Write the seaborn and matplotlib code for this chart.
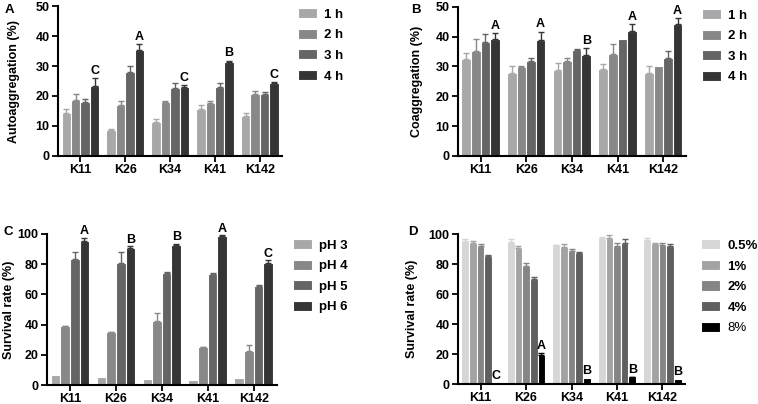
import numpy as np
import pandas as pd
import matplotlib
matplotlib.use("Agg")
import matplotlib.pyplot as plt
import seaborn as sns

strains = ["K11", "K26", "K34", "K41", "K142"]

# Panel A: autoaggregation
time_labels = ["1 h", "2 h", "3 h", "4 h"]
auto_1h = [14.2, 8.8, 11.4, 15.8, 13.4]
auto_2h = [18.6, 17.1, 17.9, 17.7, 20.6]
auto_3h = [18.1, 28.0, 22.5, 23.1, 20.8]
auto_4h = [23.2, 35.3, 22.9, 31.3, 24.3]
auto_err_1h = [1.6, 0.3, 0.8, 1.3, 1.0]
auto_err_2h = [2.2, 1.2, 0.3, 0.7, 1.2]
auto_err_3h = [1.0, 2.0, 2.0, 1.4, 0.4]
auto_err_4h = [2.7, 2.0, 0.8, 0.5, 0.3]
auto_letters = ["C", "A", "C", "B", "C"]

# Panel B: coaggregation
coag_1h = [32.6, 27.8, 28.8, 29.1, 27.8]
coag_2h = [35.3, 29.8, 32.0, 34.1, 30.1]
coag_3h = [38.1, 31.9, 35.5, 39.2, 32.8]
coag_4h = [39.3, 39.0, 33.9, 42.0, 44.2]
coag_err_1h = [2.0, 2.4, 2.3, 1.7, 2.4]
coag_err_2h = [3.8, 0.3, 1.0, 3.6, 0.0]
coag_err_3h = [2.7, 1.0, 0.3, 0.0, 2.3]
coag_err_4h = [1.8, 2.7, 2.4, 2.2, 2.0]
coag_letters = ["A", "A", "B", "A", "A"]

# Panel C: survival at pH
ph_labels = ["pH 3", "pH 4", "pH 5", "pH 6"]
ph3 = [6.3, 5.3, 4.2, 3.3, 4.5]
ph4 = [38.8, 34.8, 42.3, 25.0, 22.8]
ph5 = [83.6, 81.0, 74.3, 73.6, 65.3]
ph6 = [95.6, 90.6, 92.6, 98.5, 80.6]
ph3_err = [0.0, 0.0, 0.0, 0.0, 0.0]
ph4_err = [0.3, 0.3, 5.3, 0.4, 4.0]
ph5_err = [4.5, 7.0, 0.4, 0.7, 1.2]
ph6_err = [1.8, 1.2, 0.9, 0.7, 2.0]
ph_letters = ["A", "B", "B", "A", "C"]

# Panel D: survival in bile salts
bile_labels = ["0.5%", "1%", "2%", "4%", "8%"]
bile_05 = [95.5, 94.7, 92.5, 97.7, 95.8]
bile_1 = [93.8, 91.0, 91.5, 97.6, 93.5]
bile_2 = [92.3, 78.5, 89.0, 92.4, 93.0]
bile_4 = [85.4, 70.2, 87.6, 94.3, 92.1]
bile_8 = [0.8, 19.2, 3.8, 4.5, 3.3]
bile_05_err = [1.5, 2.3, 0.3, 0.2, 1.8]
bile_1_err = [1.3, 1.0, 2.0, 2.0, 0.4]
bile_2_err = [1.0, 2.0, 1.0, 1.5, 1.3]
bile_4_err = [1.0, 1.0, 0.5, 2.3, 1.5]
bile_8_err = [0.0, 1.5, 0.0, 0.5, 0.0]
bile_letters = ["C", "A", "B", "B", "B"]

grays4 = ["#a8a8aa", "#888888", "#656565", "#353535"]
grays5 = ["#d6d6d6", "#a3a3a5", "#858585", "#5f5f5f", "#000000"]

FONT = "Liberation Sans"
plt.rcParams["font.family"] = [FONT, "DejaVu Sans"]
plt.rcParams["font.weight"] = "bold"

fig = plt.figure(figsize=(7.58, 4.04), dpi=100)


def panel(rect, series, errs, levels, colors, letters, ylabel, ymax, ystep,
          legend_bold_flags, letter_off, label_x, leg_y):
    ax = fig.add_axes(rect)
    rows = []
    for lvl, vals in zip(levels, series):
        for s, v in zip(strains, vals):
            rows.append({"strain": s, "level": lvl, "value": v})
    df = pd.DataFrame(rows)
    sns.barplot(data=df, x="strain", y="value", hue="level", hue_order=levels,
                order=strains, palette=colors, width=0.84, errorbar=None,
                edgecolor="white", linewidth=0.8, ax=ax, saturation=1)
    bar_conts = list(ax.containers)
    for cont, err, col in zip(bar_conts, errs, colors):
        for bar, e in zip(cont, err):
            x = bar.get_x() + bar.get_width() / 2
            h = bar.get_height()
            if e > 0:
                ax.errorbar(x, h, yerr=[[0], [e]], fmt="none", ecolor=col,
                            elinewidth=1.0, capsize=2.0, capthick=1.0, zorder=1)
    last = bar_conts[-1]
    for bar, e, let in zip(last, errs[-1], letters):
        x = bar.get_x() + bar.get_width() / 2
        ax.text(x, bar.get_height() + e + letter_off, let, ha="center",
                va="bottom", fontsize=9, fontweight="bold")
    ax.set_ylim(0, ymax)
    ax.set_yticks(np.arange(0, ymax + 0.1, ystep))
    ax.set_xlim(-0.5, len(strains) - 0.5)
    ax.set_xlabel("")
    ax.set_ylabel(ylabel, fontsize=9, fontweight="bold")
    ax.yaxis.set_label_coords(label_x, 0.5)
    for sp in ["top", "right"]:
        ax.spines[sp].set_visible(False)
    for sp in ["left", "bottom"]:
        ax.spines[sp].set_linewidth(1.5)
        ax.spines[sp].set_color("black")
    ax.tick_params(axis="both", direction="out", width=1.3, length=4,
                   labelsize=9, colors="black", pad=2)
    for lab in ax.get_xticklabels() + ax.get_yticklabels():
        lab.set_fontweight("bold")
    handles, labels = ax.get_legend_handles_labels()
    leg = ax.legend(handles, labels, loc="upper left",
                    bbox_to_anchor=(1.07, leg_y), frameon=False,
                    borderpad=0, borderaxespad=0,
                    handlelength=1.45, handleheight=0.8, handletextpad=0.55,
                    labelspacing=0.6, fontsize=9.5)
    for t, b in zip(leg.get_texts(), legend_bold_flags):
        t.set_fontweight("bold" if b else "normal")
    return ax


panel([0.0765, 0.614, 0.296, 0.371],
      [auto_1h, auto_2h, auto_3h, auto_4h],
      [auto_err_1h, auto_err_2h, auto_err_3h, auto_err_4h],
      time_labels, grays4, auto_letters, "Autoaggregation (%)", 50, 10,
      [True] * 4, 0.4, -0.17, 0.985)
panel([0.604, 0.614, 0.301, 0.369],
      [coag_1h, coag_2h, coag_3h, coag_4h],
      [coag_err_1h, coag_err_2h, coag_err_3h, coag_err_4h],
      time_labels, grays4, coag_letters, "Coaggregation (%)", 50, 10,
      [True] * 4, 0.4, -0.154, 0.985)
panel([0.062, 0.047, 0.303, 0.374],
      [ph3, ph4, ph5, ph6],
      [ph3_err, ph4_err, ph5_err, ph6_err],
      ph_labels, grays4, ph_letters, "Survival rate (%)", 100, 20,
      [True] * 4, 0.4, -0.139, 0.965)
panel([0.604, 0.0495, 0.300, 0.371],
      [bile_05, bile_1, bile_2, bile_4, bile_8],
      [bile_05_err, bile_1_err, bile_2_err, bile_4_err, bile_8_err],
      bile_labels, grays5, bile_letters, "Survival rate (%)", 100, 20,
      [True, True, True, True, False], 0.6, -0.176, 0.965)

for x, y, t in [(0.006, 0.99, "A"), (0.543, 0.99, "B"),
                (0.004, 0.44, "C"), (0.538, 0.44, "D")]:
    fig.text(x, y, t, fontsize=9.5, fontweight="bold", va="top", ha="left")

fig.savefig("out.png", dpi=100)
